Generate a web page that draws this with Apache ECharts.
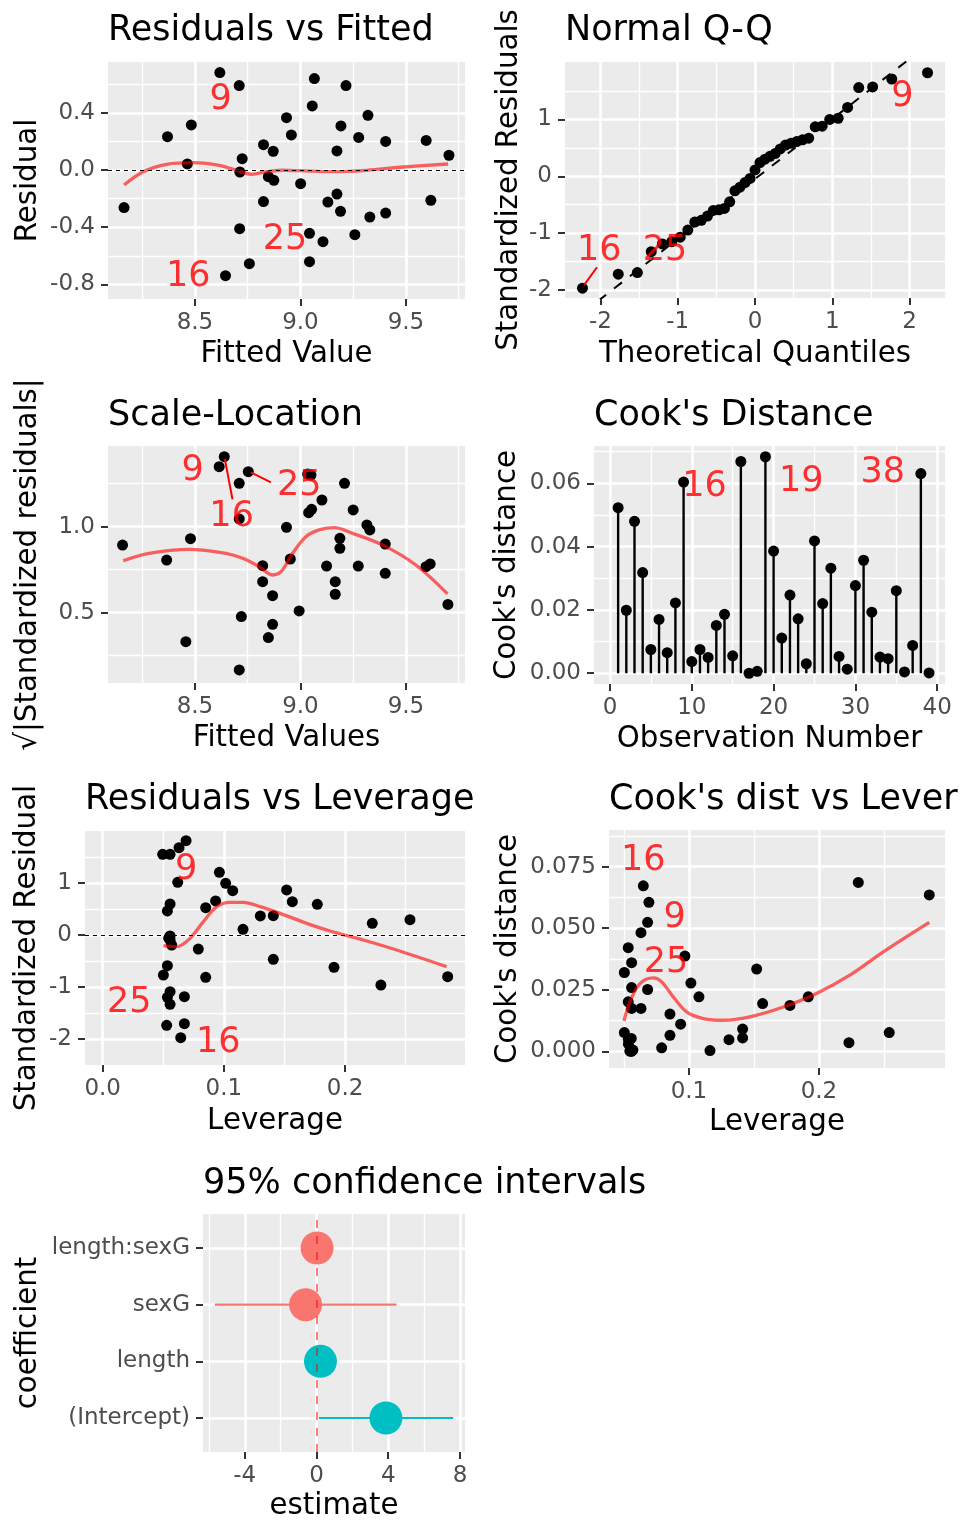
<!DOCTYPE html>
<html>
<head>
<meta charset="utf-8">
<title>Regression diagnostics</title>
<script src="https://cdn.jsdelivr.net/npm/echarts@6/dist/echarts.min.js"></script>
<style>
  html, body { margin: 0; padding: 0; background: #fff; }
  #chart { width: 960px; height: 1536px; }
</style>
</head>
<body>
<div id="chart"></div>
<script>
// ---------- values ----------
// Residuals vs Fitted
var rvfFitted = [8.164, 8.370, 8.464, 8.483, 8.618, 8.645, 8.710, 8.724, 8.713, 8.712, 8.758, 8.825, 8.871, 8.848, 8.874, 8.825, 8.934, 8.957, 9.001, 9.043, 9.043, 9.056, 9.066, 9.107, 9.130, 9.173, 9.173, 9.192, 9.190, 9.216, 9.258, 9.276, 9.320, 9.329, 9.404, 9.404, 9.596, 9.618, 9.704];
var rvfResid = [-0.263, 0.233, 0.042, 0.315, 0.681, -0.739, 0.590, 0.079, -0.014, -0.410, -0.655, 0.177, 0.131, -0.047, -0.072, -0.221, 0.366, 0.245, -0.096, -0.443, -0.641, 0.448, 0.639, -0.501, -0.224, 0.133, -0.168, 0.308, -0.289, 0.590, -0.452, 0.228, 0.382, -0.329, 0.200, -0.301, 0.207, -0.212, 0.103];
var rvfSmoothX = [8.164, 8.255, 8.366, 8.492, 8.603, 8.682, 8.769, 8.840, 8.918, 8.998, 9.155, 9.314, 9.472, 9.700];
var rvfSmoothY = [-0.105, -0.012, 0.040, 0.051, 0.035, 0.005, -0.030, -0.012, -0.002, -0.005, -0.012, -0.002, 0.019, 0.042];
var rvfLabelText = ['9', '25', '16'];
var rvfLabelX = [8.622, 8.927, 8.468];
var rvfLabelY = [0.490, -0.490, -0.746];

// Normal Q-Q
var qqTheo = [-2.232, -1.769, -1.522, -1.342, -1.198, -1.076, -0.967, -0.869, -0.779, -0.695, -0.615, -0.539, -0.466, -0.396, -0.327, -0.260, -0.194, -0.129, -0.064, 0, 0.064, 0.129, 0.194, 0.260, 0.327, 0.396, 0.466, 0.539, 0.615, 0.695, 0.779, 0.869, 0.967, 1.076, 1.198, 1.342, 1.522, 1.769, 2.232];
var qqStd = [-1.967, -1.722, -1.693, -1.325, -1.19, -1.15, -1.07, -0.946, -0.806, -0.775, -0.70, -0.60, -0.59, -0.565, -0.45, -0.256, -0.192, -0.11, -0.037, 0.112, 0.24, 0.30, 0.35, 0.40, 0.48, 0.55, 0.58, 0.61, 0.64, 0.67, 0.87, 0.88, 1.00, 1.02, 1.21, 1.56, 1.57, 1.71, 1.82];
var qqLineX = [-2.232, 2.232];
var qqLineY = [-2.405, 2.309];
var qqLabelText = ['16', '25', '9'];
var qqLabelX = [-2.014, -1.164, 1.906];
var qqLabelY = [-1.313, -1.313, 1.401];
var qqSegments = [[-2.044, -1.599, -2.212, -1.914]];

// Scale-Location
var slFitted = [8.157, 8.366, 8.479, 8.457, 8.615, 8.639, 8.710, 8.710, 8.720, 8.710, 8.753, 8.821, 8.821, 8.868, 8.868, 8.848, 8.934, 8.952, 8.994, 9.034, 9.050, 9.039, 9.053, 9.102, 9.124, 9.165, 9.165, 9.187, 9.187, 9.209, 9.250, 9.274, 9.315, 9.329, 9.402, 9.402, 9.595, 9.615, 9.699];
var slRoot = [0.893, 0.806, 0.930, 0.331, 1.349, 1.407, 1.252, 1.045, 0.477, 0.167, 1.320, 0.773, 0.680, 0.599, 0.432, 0.355, 0.996, 0.812, 0.510, 1.306, 1.300, 1.081, 1.101, 1.155, 0.771, 0.680, 0.607, 0.932, 0.874, 1.252, 1.097, 0.771, 1.010, 0.981, 0.899, 0.729, 0.767, 0.783, 0.548];
var slSmoothX = [8.160, 8.283, 8.473, 8.647, 8.726, 8.805, 8.868, 8.908, 8.963, 9.026, 9.089, 9.160, 9.247, 9.389, 9.547, 9.697];
var slSmoothY = [0.802, 0.845, 0.868, 0.845, 0.816, 0.767, 0.719, 0.738, 0.845, 0.942, 0.981, 0.994, 0.961, 0.894, 0.777, 0.609];
var slLabelText = ['9', '16', '25'];
var slLabelX = [8.489, 8.674, 8.994];
var slLabelY = [1.326, 1.055, 1.237];
var slSegments = [[8.642, 1.392, 8.678, 1.159], [8.765, 1.316, 8.860, 1.258]];

// Cook's distance by observation
var obsNumber = [];
for (var n = 1; n <= 39; n++) obsNumber.push(n);
var cooksD = [0.0523, 0.0199, 0.0480, 0.0318, 0.0075, 0.0170, 0.0065, 0.0222, 0.0604, 0.0037, 0.0075, 0.0050, 0.0151, 0.0186, 0.0055, 0.0669, 0.0000, 0.0006, 0.0684, 0.0386, 0.0111, 0.0247, 0.0172, 0.0030, 0.0418, 0.0220, 0.0332, 0.0053, 0.0013, 0.0277, 0.0357, 0.0193, 0.0051, 0.0046, 0.0261, 0.0004, 0.0088, 0.0631, 0.0001];
var cdLabelText = ['16', '19', '38'];
var cdLabelX = [11.55, 23.39, 33.34];
var cdLabelY = [0.0588, 0.0605, 0.0633];

// Residuals vs Leverage
var rlLev = [0.0495, 0.0556, 0.0630, 0.0688, 0.0619, 0.0556, 0.0534, 0.0556, 0.0556, 0.0569, 0.0534, 0.0501, 0.0556, 0.0534, 0.0556, 0.0674, 0.0528, 0.0674, 0.0644, 0.0789, 0.0850, 0.0850, 0.0932, 0.0963, 0.1015, 0.1073, 0.1158, 0.1301, 0.1408, 0.1408, 0.1518, 0.1565, 0.1771, 0.1909, 0.2225, 0.2296, 0.2536, 0.2847, 0.0545];
var rlStd = [1.548, 1.548, 1.676, 1.811, 1.011, 0.595, 0.461, -0.019, -0.096, -0.192, -0.589, -0.768, -1.088, -1.196, -1.331, -1.184, -1.734, -1.702, -1.971, -0.269, 0.525, -0.813, 0.653, 1.203, 0.992, 0.851, 0.109, 0.365, 0.371, -0.467, 0.864, 0.640, 0.589, -0.621, 0.224, -0.960, 0.294, -0.800, -0.060];
var rlSmoothX = [0.0501, 0.0611, 0.0721, 0.0831, 0.0941, 0.1051, 0.1161, 0.1298, 0.1463, 0.1683, 0.1876, 0.2151, 0.2426, 0.2838];
var rlSmoothY = [-0.205, -0.224, -0.064, 0.256, 0.544, 0.627, 0.627, 0.544, 0.416, 0.224, 0.077, -0.096, -0.288, -0.608];
var rlLabelText = ['9', '25', '16'];
var rlLabelX = [0.0688, 0.0220, 0.0954];
var rlLabelY = [1.248, -1.305, -2.079];

// Cook's dist vs Leverage
var clLev = [0.0649, 0.0692, 0.0682, 0.0631, 0.0533, 0.0559, 0.0503, 0.0559, 0.0682, 0.0533, 0.0559, 0.0631, 0.0503, 0.0534, 0.0556, 0.0534, 0.0556, 0.0556, 0.0569, 0.0545, 0.0790, 0.0854, 0.0854, 0.0936, 0.0969, 0.1015, 0.1077, 0.1162, 0.1308, 0.1413, 0.1413, 0.1521, 0.1567, 0.1777, 0.1918, 0.2231, 0.2303, 0.2541, 0.2849];
var clCook = [0.0672, 0.0605, 0.0524, 0.0482, 0.0421, 0.0360, 0.0320, 0.0259, 0.0251, 0.0201, 0.0174, 0.0174, 0.0076, 0.0049, 0.0052, 0.0030, 0.0000, 0.0001, 0.0005, 0.0001, 0.0014, 0.0065, 0.0151, 0.0110, 0.0387, 0.0277, 0.0221, 0.0003, 0.0047, 0.0090, 0.0054, 0.0334, 0.0194, 0.0186, 0.0221, 0.0035, 0.0686, 0.0076, 0.0635];
var clSmoothX = [0.0500, 0.0546, 0.0623, 0.0726, 0.0790, 0.0879, 0.0982, 0.1110, 0.1264, 0.1469, 0.1726, 0.1982, 0.2238, 0.2495, 0.2849];
var clSmoothY = [0.0123, 0.0201, 0.0275, 0.0298, 0.0282, 0.0221, 0.0160, 0.0133, 0.0126, 0.0140, 0.0180, 0.0235, 0.0309, 0.0404, 0.0524];
var clLabelText = ['16', '9', '25'];
var clLabelX = [0.0648, 0.0890, 0.0823];
var clLabelY = [0.0773, 0.0540, 0.0357];

// 95% confidence intervals (bottom to top)
var coefNames = ['(Intercept)', 'length', 'sexG', 'length:sexG'];
var coefEst = [3.87, 0.22, -0.61, 0.03];
var coefLow = [0.13, 0.12, -5.67, -0.05];
var coefHigh = [7.62, 0.32, 4.46, 0.11];
var coefGroup = [1, 1, 0, 0];

// tick values
var ticksFitted = [8.5, 9.0, 9.5], minorFitted = [8.25, 8.75, 9.25, 9.75];
var ticksResid = [-0.8, -0.4, 0, 0.4], minorResid = [-0.6, -0.2, 0.2, 0.6];
var ticksTheo = [-2, -1, 0, 1, 2], minorTheo = [-1.5, -0.5, 0.5, 1.5];
var ticksStd = [-2, -1, 0, 1], minorStd = [-1.5, -0.5, 0.5, 1.5];
var ticksRoot = [0.5, 1.0], minorRoot = [0.25, 0.75, 1.25];
var ticksObs = [0, 10, 20, 30, 40], minorObs = [5, 15, 25, 35];
var ticksCook = [0, 0.02, 0.04, 0.06], minorCook = [0.01, 0.03, 0.05, 0.07];
var ticksLev = [0, 0.1, 0.2], minorLev = [0.05, 0.15, 0.25];
var ticksStd2 = [-2, -1, 0, 1, 2], minorStd2 = [-2.5, -1.5, -0.5, 0.5, 1.5];
var ticksLev2 = [0.1, 0.2], minorLev2 = [0.05, 0.15, 0.25];
var ticksCook2 = [0, 0.025, 0.05, 0.075], minorCook2 = [0.0125, 0.0375, 0.0625, 0.0875];
var ticksEst = [-4, 0, 4, 8], minorEst = [-6, -2, 2, 6];
var ticksCoef = [1, 2, 3, 4];

// ---------- chart ----------
var FONT = 'DejaVu Sans';
var RED_LINE = 'rgba(255,0,0,0.6)';
var myChart = echarts.init(document.getElementById('chart'));

function zip(a, b) {
  return a.map(function (v, i) { return [v, b[i]]; });
}
function fixed(d) {
  return function (v) { return v.toFixed(d); };
}

var xAxes = [], yAxes = [];
// major axis (labels, ticks, major grid) + twin axis that only draws the minor grid
function addAxis(list, isX, grid, min, max, major, minor, fmt, name, nameGap) {
  var idx = list.length;
  list.push({
    type: 'value', gridIndex: grid, min: min, max: max,
    position: isX ? 'bottom' : 'left',
    name: name, nameLocation: 'middle', nameGap: nameGap,
    nameTextStyle: { color: '#000', fontSize: 29.3, fontFamily: FONT },
    axisLine: { show: false, onZero: false },
    axisTick: { show: true, length: 7, customValues: major, lineStyle: { color: '#333', width: 2 } },
    axisLabel: { customValues: major, color: '#4D4D4D', fontSize: 23, fontFamily: FONT,
      margin: 13, formatter: fmt },
    splitLine: { show: true, lineStyle: { color: '#fff', width: 2.6 } }
  });
  list.push({
    type: 'value', gridIndex: grid, min: min, max: max,
    position: isX ? 'bottom' : 'left',
    axisLine: { show: false, onZero: false },
    axisTick: { show: false, customValues: minor },
    axisLabel: { show: false },
    splitLine: { show: minor.length > 0, lineStyle: { color: '#fff', width: 1.3 } }
  });
  return idx;
}

var grids = [
  { left: 108, top: 62, width: 357, height: 237 },
  { left: 565, top: 62, width: 380, height: 236 },
  { left: 108, top: 446, width: 357, height: 237 },
  { left: 594, top: 446, width: 351, height: 238 },
  { left: 85, top: 831, width: 380, height: 234 },
  { left: 609, top: 830, width: 336, height: 238 },
  { left: 203, top: 1214, width: 262, height: 238 }
].map(function (g) {
  g.show = true; g.backgroundColor = '#EBEBEB'; g.borderWidth = 0;
  return g;
});

var x0 = addAxis(xAxes, true, 0, 8.088, 9.78, ticksFitted, minorFitted, fixed(1), 'Fitted Value', 41);
var y0 = addAxis(yAxes, false, 0, -0.902, 0.755, ticksResid, minorResid, fixed(1), 'Residual', 65);
var x1 = addAxis(xAxes, true, 1, -2.458, 2.458, ticksTheo, minorTheo, fixed(0), 'Theoretical Quantiles', 42);
var y1 = addAxis(yAxes, false, 1, -2.14, 2.009, ticksStd, minorStd, fixed(0), 'Standardized Residuals', 41);
var x2 = addAxis(xAxes, true, 2, 8.088, 9.78, ticksFitted, minorFitted, fixed(1), 'Fitted Values', 41);
var y2 = addAxis(yAxes, false, 2, 0.091, 1.469, ticksRoot, minorRoot, fixed(1), '\u221A|Standardized residuals|', 65);
var x3 = addAxis(xAxes, true, 3, -1.95, 40.95, ticksObs, minorObs, fixed(0), 'Observation Number', 41);
var y3 = addAxis(yAxes, false, 3, -0.0034, 0.0718, ticksCook, minorCook, fixed(2), "Cook's distance", 72);
var x4 = addAxis(xAxes, true, 4, -0.0146, 0.299, ticksLev, minorLev, fixed(1), 'Leverage', 42);
var y4 = addAxis(yAxes, false, 4, -2.495, 1.996, ticksStd2, minorStd2, fixed(0), 'Standardized Residual', 43);
var x5 = addAxis(xAxes, true, 5, 0.0385, 0.297, ticksLev2, minorLev2, fixed(1), 'Leverage', 40);
var y5 = addAxis(yAxes, false, 5, -0.0068, 0.0899, ticksCook2, minorCook2, fixed(3), "Cook's distance", 86);
var x6 = addAxis(xAxes, true, 6, -6.33, 8.28, ticksEst, minorEst, fixed(0), 'estimate', 40);
var y6 = addAxis(yAxes, false, 6, 0.4, 4.6, ticksCoef, [], function (v) { return coefNames[Math.round(v) - 1]; }, 'coefficient', 160);

function points(xi, yi, data, size) {
  return { type: 'scatter', xAxisIndex: xi, yAxisIndex: yi, symbolSize: size || 11,
    itemStyle: { color: '#000', opacity: 1 }, z: 3, data: data };
}
function smoothLine(xi, yi, data) {
  return { type: 'line', xAxisIndex: xi, yAxisIndex: yi, smooth: 0.35, showSymbol: false, z: 4,
    lineStyle: { color: RED_LINE, width: 3.3 }, data: data };
}
function labels(xi, yi, texts, xs, ys) {
  return { type: 'scatter', xAxisIndex: xi, yAxisIndex: yi, symbolSize: 1, z: 6, silent: true,
    itemStyle: { color: 'rgba(0,0,0,0)' },
    label: { show: true, position: 'inside', color: '#FF0000', fontSize: 35, fontFamily: FONT,
      formatter: function (p) { return texts[p.dataIndex]; } },
    data: zip(xs, ys) };
}
function segments(xi, yi, segs) {
  return { type: 'custom', xAxisIndex: xi, yAxisIndex: yi, z: 5, silent: true,
    encode: { x: [0, 2], y: [1, 3] },
    renderItem: function (params, api) {
      var a = api.coord([api.value(0), api.value(1)]);
      var b = api.coord([api.value(2), api.value(3)]);
      return { type: 'line', shape: { x1: a[0], y1: a[1], x2: b[0], y2: b[1] },
        style: { stroke: '#FF0000', lineWidth: 2 } };
    },
    data: segs };
}
function zeroLine(axisKey) {
  var d = {}; d[axisKey] = 0;
  return { symbol: 'none', silent: true, label: { show: false },
    lineStyle: { color: '#000', width: 1, type: [4, 4] }, data: [d] };
}

var series = [];
// Residuals vs Fitted
var s = points(x0, y0, zip(rvfFitted, rvfResid));
s.markLine = zeroLine('yAxis');
series.push(s, smoothLine(x0, y0, zip(rvfSmoothX, rvfSmoothY)),
  labels(x0, y0, rvfLabelText, rvfLabelX, rvfLabelY));
// Normal Q-Q
series.push(points(x1, y1, zip(qqTheo, qqStd)),
  { type: 'line', xAxisIndex: x1, yAxisIndex: y1, showSymbol: false, clip: true, z: 4,
    lineStyle: { color: '#000', width: 2, type: [10, 10] }, data: zip(qqLineX, qqLineY) },
  labels(x1, y1, qqLabelText, qqLabelX, qqLabelY),
  segments(x1, y1, qqSegments));
// Scale-Location
series.push(points(x2, y2, zip(slFitted, slRoot)),
  smoothLine(x2, y2, zip(slSmoothX, slSmoothY)),
  labels(x2, y2, slLabelText, slLabelX, slLabelY),
  segments(x2, y2, slSegments));
// Cook's distance
series.push({ type: 'custom', xAxisIndex: x3, yAxisIndex: y3, z: 2, silent: true,
    encode: { x: 0, y: 1 },
    renderItem: function (params, api) {
      var top = api.coord([api.value(0), api.value(1)]);
      var base = api.coord([api.value(0), 0]);
      return { type: 'line', shape: { x1: base[0], y1: base[1], x2: top[0], y2: top[1] },
        style: { stroke: '#000', lineWidth: 2.4 } };
    },
    data: zip(obsNumber, cooksD) },
  points(x3, y3, zip(obsNumber, cooksD)),
  labels(x3, y3, cdLabelText, cdLabelX, cdLabelY));
// Residuals vs Leverage
s = points(x4, y4, zip(rlLev, rlStd));
s.markLine = zeroLine('yAxis');
series.push(s, smoothLine(x4, y4, zip(rlSmoothX, rlSmoothY)),
  labels(x4, y4, rlLabelText, rlLabelX, rlLabelY));
// Cook's dist vs Leverage
series.push(points(x5, y5, zip(clLev, clCook)),
  smoothLine(x5, y5, zip(clSmoothX, clSmoothY)),
  labels(x5, y5, clLabelText, clLabelX, clLabelY));
// 95% confidence intervals
var groupColor = ['#F8766D', '#00BFC4'];
var ciRows = coefNames.map(function (nm, i) { return [coefLow[i], coefHigh[i], i + 1, coefGroup[i]]; });
series.push({ type: 'custom', xAxisIndex: x6, yAxisIndex: y6, z: 2, silent: true,
    encode: { x: [0, 1], y: 2 },
    renderItem: function (params, api) {
      var a = api.coord([api.value(0), api.value(2)]);
      var b = api.coord([api.value(1), api.value(2)]);
      return { type: 'line', shape: { x1: a[0], y1: a[1], x2: b[0], y2: b[1] },
        style: { stroke: groupColor[api.value(3)], lineWidth: 2.2 } };
    },
    data: ciRows },
  { type: 'scatter', xAxisIndex: x6, yAxisIndex: y6, symbolSize: 33, z: 3,
    itemStyle: { opacity: 1, color: function (p) { return groupColor[coefGroup[p.dataIndex]]; } },
    data: coefEst.map(function (v, i) { return [v, i + 1]; }),
    markLine: { symbol: 'none', silent: true, z: 6, label: { show: false },
      lineStyle: { color: 'rgba(255,0,0,0.5)', width: 2, type: [8, 8] }, data: [{ xAxis: 0 }] } });

// the last title runs past the right edge of the figure and is cut there
function title(text, left, top) {
  return { text: text, left: left, top: top, padding: 0,
    textStyle: { color: '#000', fontSize: 35, fontWeight: 'normal', fontFamily: FONT,
      width: 971 - left, overflow: 'truncate', ellipsis: '' } };
}

var option = {
  animation: false,
  backgroundColor: '#fff',
  textStyle: { fontFamily: FONT },
  title: [
    title('Residuals vs Fitted', 108, 13),
    title('Normal Q-Q', 565, 13),
    title('Scale-Location', 108, 398),
    title("Cook's Distance", 594, 398),
    title('Residuals vs Leverage', 85, 782),
    title("Cook's dist vs Leverage", 609, 782),
    title('95% confidence intervals', 203, 1166)
  ],
  grid: grids,
  xAxis: xAxes,
  yAxis: yAxes,
  series: series
};
myChart.setOption(option);
window.addEventListener('resize', function () {
  myChart.resize();
});
</script>
</body>
</html>
